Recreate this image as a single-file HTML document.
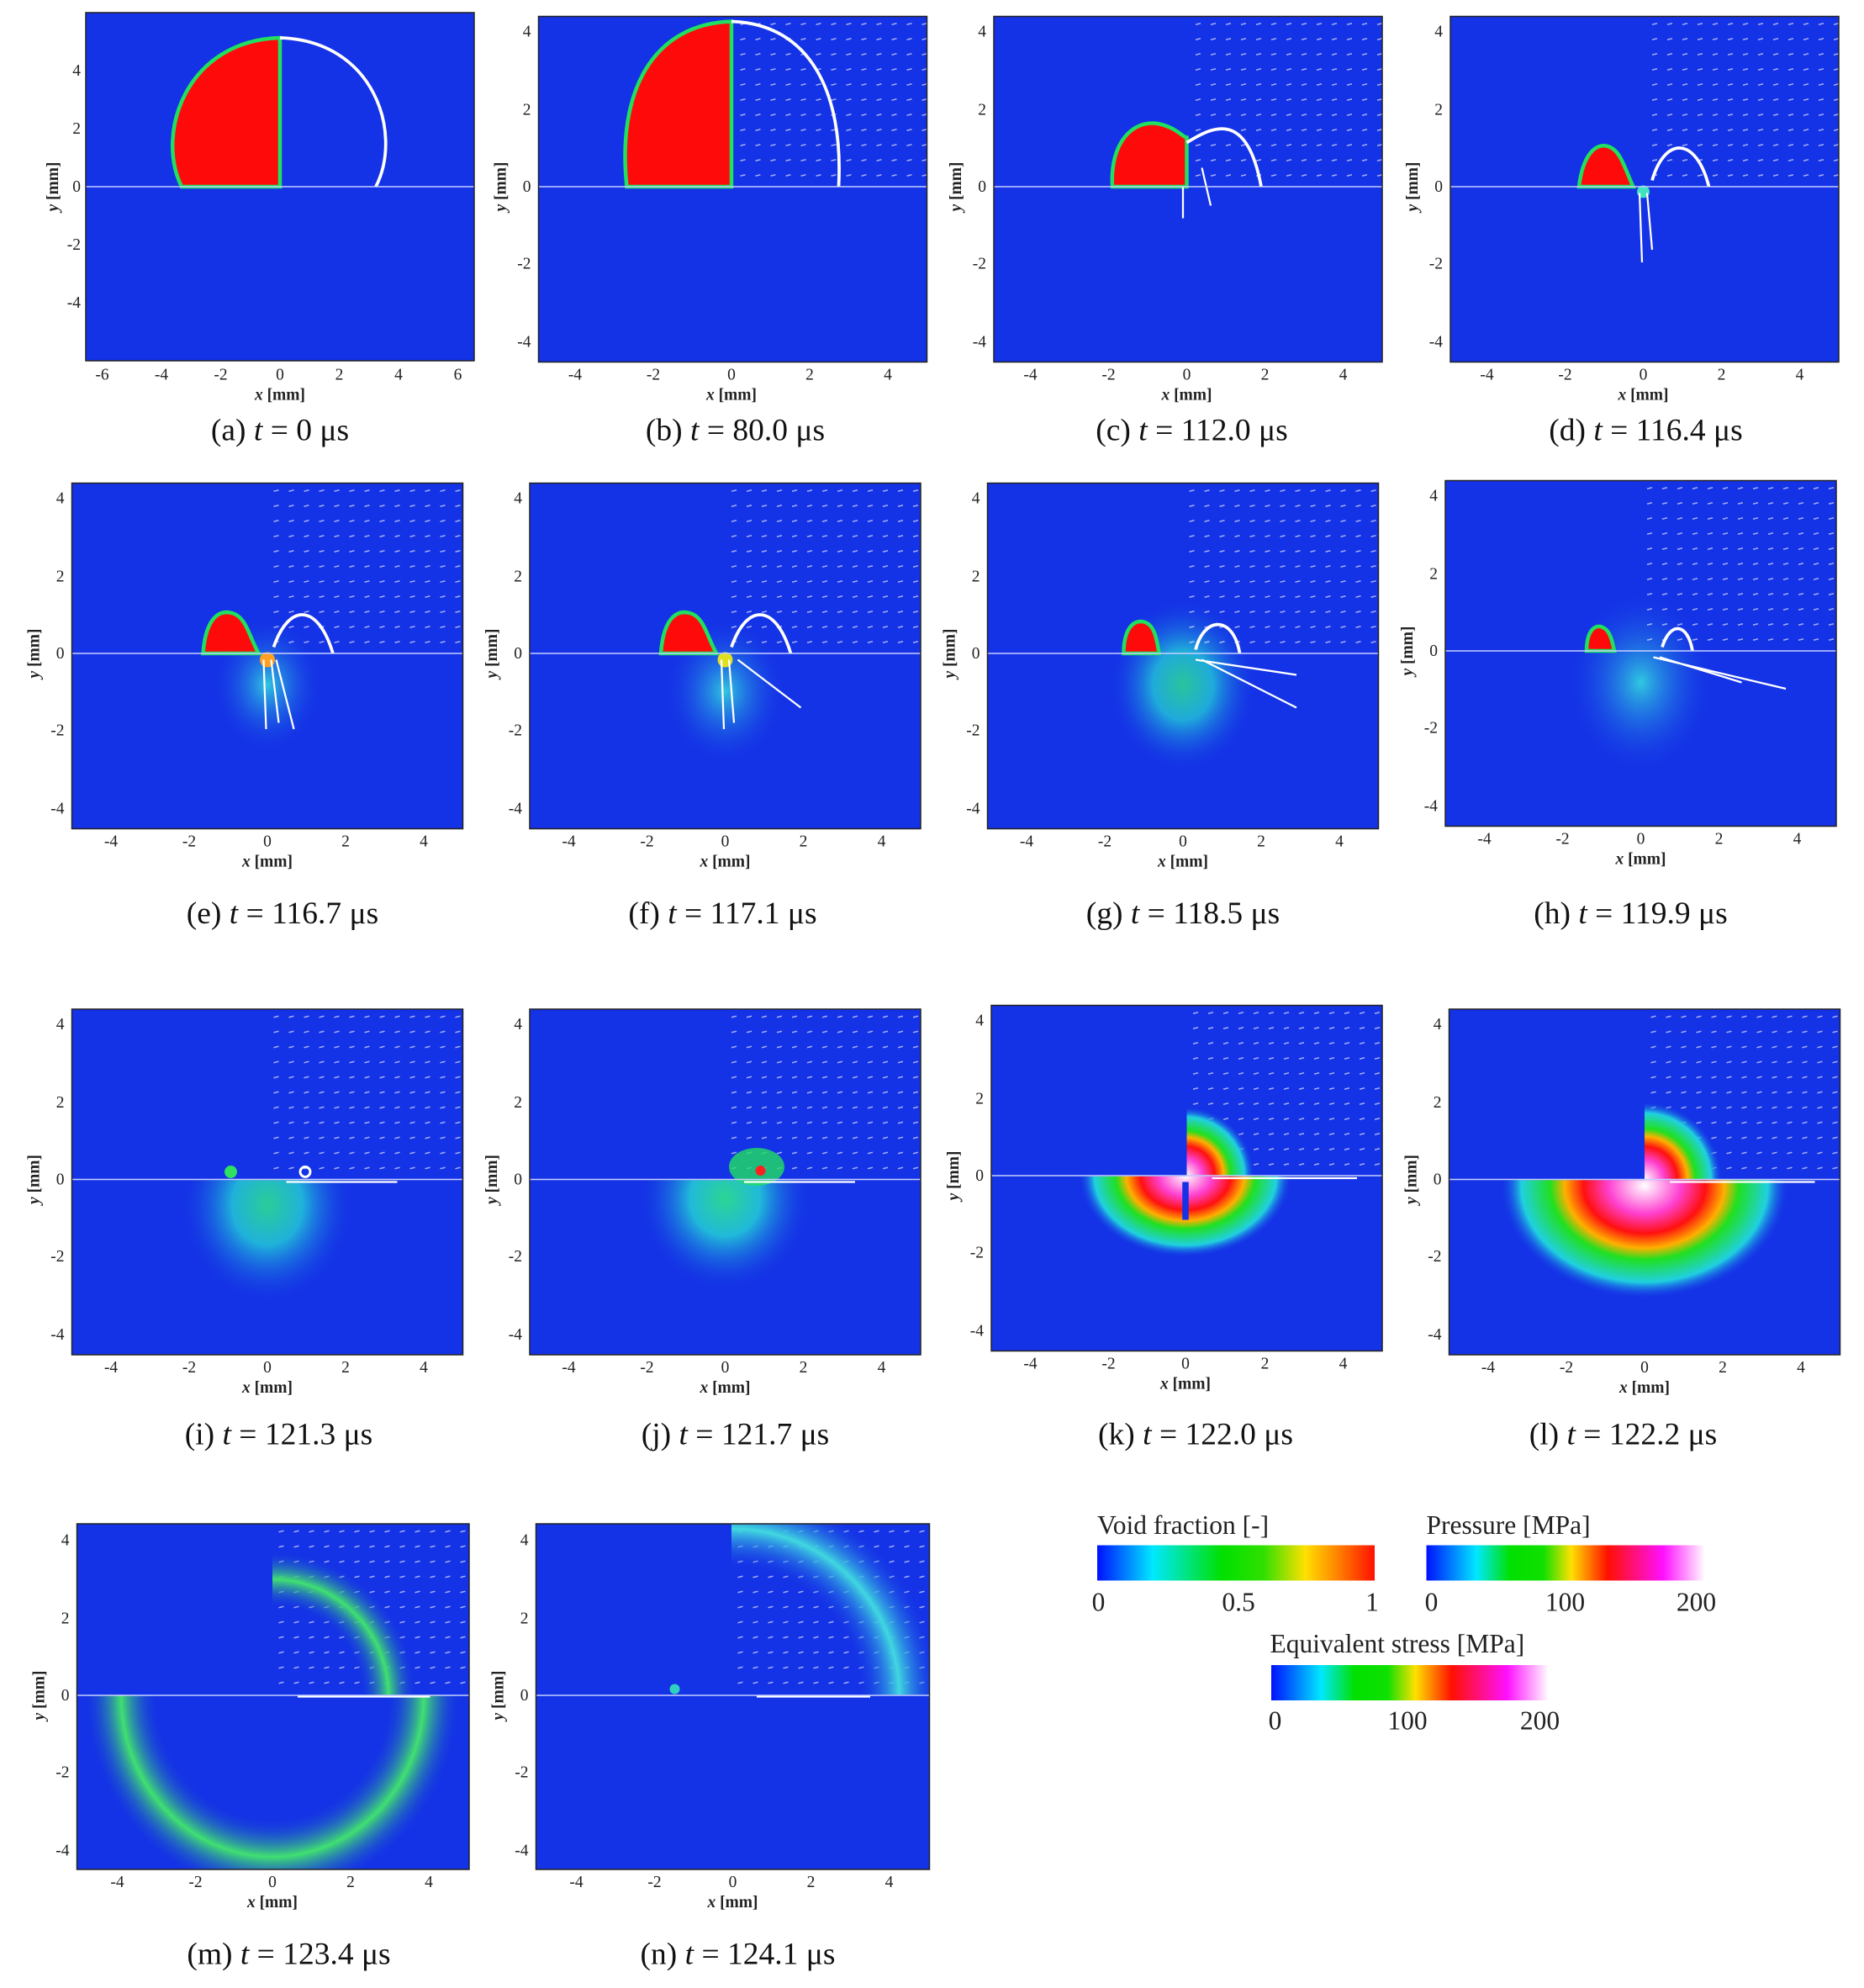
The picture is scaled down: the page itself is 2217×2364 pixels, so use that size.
<!DOCTYPE html>
<html><head><meta charset="utf-8"><style>
html,body{margin:0;padding:0;background:#fff}
svg{display:block}
.t{font-family:"Liberation Serif",serif;font-size:13px;fill:#222}
.ax{font-family:"Liberation Serif",serif;font-size:13px;font-weight:bold;fill:#222}
.cap{font-family:"Liberation Serif",serif;font-size:25px;fill:#111}
.lg{font-family:"Liberation Serif",serif;font-size:21px;fill:#222}
</style></head><body>
<svg width="2217" height="2364" viewBox="0 0 1478 1576" xmlns="http://www.w3.org/2000/svg">
<defs>
<pattern id="vf" width="12" height="12" patternUnits="userSpaceOnUse"><line x1="4" y1="6.5" x2="8" y2="5.5" stroke="#fff" stroke-width="1" opacity="0.6"/></pattern>
<radialGradient id="glow"><stop offset="0" stop-color="#2ee88a"/><stop offset="0.4" stop-color="#22c8d8"/><stop offset="1" stop-color="#1432e6" stop-opacity="0"/></radialGradient>
<radialGradient id="glow2"><stop offset="0" stop-color="#30c8e0"/><stop offset="1" stop-color="#1432e6" stop-opacity="0"/></radialGradient>
<radialGradient id="pres"><stop offset="0" stop-color="#fff"/><stop offset="0.25" stop-color="#ff40d0"/><stop offset="0.42" stop-color="#ff1010"/><stop offset="0.55" stop-color="#ffb000"/><stop offset="0.65" stop-color="#20e020"/><stop offset="0.85" stop-color="#20d0e0"/><stop offset="1" stop-color="#1432e6" stop-opacity="0"/></radialGradient>
<radialGradient id="ring" cx="0.5" cy="0.5" r="0.5"><stop offset="0.6" stop-color="#1432e6" stop-opacity="0"/><stop offset="0.8" stop-color="#40e070"/><stop offset="1" stop-color="#1432e6" stop-opacity="0"/></radialGradient>
<radialGradient id="ring2" cx="0.5" cy="0.5" r="0.5"><stop offset="0.6" stop-color="#1432e6" stop-opacity="0"/><stop offset="0.8" stop-color="#40d8e0"/><stop offset="1" stop-color="#1432e6" stop-opacity="0"/></radialGradient>
<linearGradient id="cbv"><stop offset="0" stop-color="#0010ff"/><stop offset="0.2" stop-color="#00e8ff"/><stop offset="0.45" stop-color="#00e000"/><stop offset="0.6" stop-color="#30e000"/><stop offset="0.75" stop-color="#ffe000"/><stop offset="0.85" stop-color="#ff9000"/><stop offset="1" stop-color="#ff1000"/></linearGradient>
<linearGradient id="cbp"><stop offset="0" stop-color="#0010ff"/><stop offset="0.18" stop-color="#00e8ff"/><stop offset="0.3" stop-color="#00e000"/><stop offset="0.42" stop-color="#10e000"/><stop offset="0.52" stop-color="#ffe000"/><stop offset="0.65" stop-color="#ff1000"/><stop offset="0.85" stop-color="#ff10ff"/><stop offset="1" stop-color="#ffffff"/></linearGradient>
<clipPath id="cp"><rect x="0" y="0" width="312" height="274"/></clipPath>
<clipPath id="qr"><rect x="155" y="0" width="157" height="135.5"/></clipPath>
<clipPath id="bot"><rect x="0" y="135.5" width="312" height="139"/></clipPath>
</defs>

<!-- (a) -->
<g transform="translate(68,10)">
<rect width="308" height="276" fill="#1432e6"/>
<path d="M154,138 L76,138 C55,95 80,22 154,20 Z" fill="#ff0a0a" stroke="#20e060" stroke-width="3"/>
<path d="M230,138 C252,95 228,22 154,20" fill="none" stroke="#fff" stroke-width="2.5"/>
<line x1="0" y1="138" x2="308" y2="138" stroke="#c8d0ff" stroke-width="1"/>
<rect width="308" height="276" fill="none" stroke="#222"/>
<g class="t" text-anchor="middle"><text x="13" y="291">-6</text><text x="60" y="291">-4</text><text x="107" y="291">-2</text><text x="154" y="291">0</text><text x="201" y="291">2</text><text x="248" y="291">4</text><text x="295" y="291">6</text></g>
<g class="t" text-anchor="end"><text x="-4" y="50">4</text><text x="-4" y="96">2</text><text x="-4" y="142">0</text><text x="-4" y="188">-2</text><text x="-4" y="234">-4</text></g>
<text class="ax" x="154" y="307" text-anchor="middle"><tspan font-style="italic">x</tspan> [mm]</text>
<text class="ax" transform="translate(-22,138) rotate(-90)" text-anchor="middle"><tspan font-style="italic">y</tspan> [mm]</text>
</g>
<text class="cap" x="222" y="349" text-anchor="middle">(a) <tspan font-style="italic">t</tspan> = 0 μs</text>

<!-- (b) -->
<g transform="translate(427,13)">
<rect width="308" height="274" fill="#1432e6"/>
<rect x="153" y="0" width="155" height="135" fill="url(#vf)"/>
<path d="M153,135 L70,135 C62,60 90,6 153,4 Z" fill="#ff0a0a" stroke="#20e060" stroke-width="3"/>
<path d="M238,135 C242,60 215,6 153,4" fill="none" stroke="#fff" stroke-width="2.5"/>
<line x1="0" y1="135" x2="308" y2="135" stroke="#c8d0ff"/>
<rect width="308" height="274" fill="none" stroke="#222"/>
<g class="t" text-anchor="middle"><text x="29" y="288">-4</text><text x="91" y="288">-2</text><text x="153" y="288">0</text><text x="215" y="288">2</text><text x="277" y="288">4</text></g>
<g class="t" text-anchor="end"><text x="-6" y="16">4</text><text x="-6" y="78">2</text><text x="-6" y="139">0</text><text x="-6" y="200">-2</text><text x="-6" y="262">-4</text></g>
<text class="ax" x="153" y="304" text-anchor="middle"><tspan font-style="italic">x</tspan> [mm]</text>
<text class="ax" transform="translate(-26,135) rotate(-90)" text-anchor="middle"><tspan font-style="italic">y</tspan> [mm]</text>
</g>
<text class="cap" x="583" y="349" text-anchor="middle">(b) <tspan font-style="italic">t</tspan> = 80.0 μs</text>

<!-- (c) -->
<g transform="translate(788,13)">
<rect width="308" height="274" fill="#1432e6"/>
<rect x="153" y="0" width="155" height="135" fill="url(#vf)"/>
<path d="M153,135 L94,135 C92,100 110,82 130,85 C145,88 150,96 153,96 Z" fill="#ff0a0a" stroke="#20e060" stroke-width="3"/>
<path d="M153,100 C170,90 200,70 212,135" fill="none" stroke="#fff" stroke-width="2.5"/>
<path d="M150,135 L150,160 M165,120 L172,150" stroke="#fff" stroke-width="1.5"/>
<line x1="0" y1="135" x2="308" y2="135" stroke="#c8d0ff"/>
<rect width="308" height="274" fill="none" stroke="#222"/>
<g class="t" text-anchor="middle"><text x="29" y="288">-4</text><text x="91" y="288">-2</text><text x="153" y="288">0</text><text x="215" y="288">2</text><text x="277" y="288">4</text></g>
<g class="t" text-anchor="end"><text x="-6" y="16">4</text><text x="-6" y="78">2</text><text x="-6" y="139">0</text><text x="-6" y="200">-2</text><text x="-6" y="262">-4</text></g>
<text class="ax" x="153" y="304" text-anchor="middle"><tspan font-style="italic">x</tspan> [mm]</text>
<text class="ax" transform="translate(-26,135) rotate(-90)" text-anchor="middle"><tspan font-style="italic">y</tspan> [mm]</text>
</g>
<text class="cap" x="945" y="349" text-anchor="middle">(c) <tspan font-style="italic">t</tspan> = 112.0 μs</text>

<!-- (d) -->
<g transform="translate(1150,13)">
<rect width="308" height="274" fill="#1432e6"/>
<rect x="153" y="0" width="155" height="135" fill="url(#vf)"/>
<path d="M145,135 L102,135 C105,110 115,100 125,103 C135,106 138,120 145,135 Z" fill="#ff0a0a" stroke="#20e060" stroke-width="3"/>
<path d="M160,130 C170,95 195,95 205,135" fill="none" stroke="#fff" stroke-width="2.5"/>
<circle cx="153" cy="139" r="5" fill="#40e0c0"/>
<path d="M150,140 L152,195 M156,140 L160,185" stroke="#fff" stroke-width="1.5"/>
<line x1="0" y1="135" x2="308" y2="135" stroke="#c8d0ff"/>
<rect width="308" height="274" fill="none" stroke="#222"/>
<g class="t" text-anchor="middle"><text x="29" y="288">-4</text><text x="91" y="288">-2</text><text x="153" y="288">0</text><text x="215" y="288">2</text><text x="277" y="288">4</text></g>
<g class="t" text-anchor="end"><text x="-6" y="16">4</text><text x="-6" y="78">2</text><text x="-6" y="139">0</text><text x="-6" y="200">-2</text><text x="-6" y="262">-4</text></g>
<text class="ax" x="153" y="304" text-anchor="middle"><tspan font-style="italic">x</tspan> [mm]</text>
<text class="ax" transform="translate(-26,135) rotate(-90)" text-anchor="middle"><tspan font-style="italic">y</tspan> [mm]</text>
</g>
<text class="cap" x="1305" y="349" text-anchor="middle">(d) <tspan font-style="italic">t</tspan> = 116.4 μs</text>

<!-- (e) -->
<g transform="translate(57,383)">
<rect width="310" height="274" fill="#1432e6"/>
<ellipse cx="155" cy="160" rx="45" ry="55" fill="url(#glow2)"/>
<rect x="155" y="0" width="155" height="135" fill="url(#vf)"/>
<path d="M148,135 L104,135 C106,108 116,100 127,103 C138,106 140,120 148,135 Z" fill="#ff0a0a" stroke="#20e060" stroke-width="3"/>
<path d="M160,130 C172,95 195,95 207,135" fill="none" stroke="#fff" stroke-width="2.5"/>
<circle cx="155" cy="140" r="6" fill="#ffa020"/>
<path d="M152,140 L154,195 M158,140 L164,190 M162,140 L176,195" stroke="#fff" stroke-width="1.5"/>
<line x1="0" y1="135" x2="310" y2="135" stroke="#c8d0ff"/>
<rect width="310" height="274" fill="none" stroke="#222"/>
<g class="t" text-anchor="middle"><text x="31" y="288">-4</text><text x="93" y="288">-2</text><text x="155" y="288">0</text><text x="217" y="288">2</text><text x="279" y="288">4</text></g>
<g class="t" text-anchor="end"><text x="-6" y="16">4</text><text x="-6" y="78">2</text><text x="-6" y="139">0</text><text x="-6" y="200">-2</text><text x="-6" y="262">-4</text></g>
<text class="ax" x="155" y="304" text-anchor="middle"><tspan font-style="italic">x</tspan> [mm]</text>
<text class="ax" transform="translate(-26,135) rotate(-90)" text-anchor="middle"><tspan font-style="italic">y</tspan> [mm]</text>
</g>
<text class="cap" x="224" y="732" text-anchor="middle">(e) <tspan font-style="italic">t</tspan> = 116.7 μs</text>

<!-- (f) -->
<g transform="translate(420,383)">
<rect width="310" height="274" fill="#1432e6"/>
<ellipse cx="155" cy="165" rx="50" ry="60" fill="url(#glow2)"/>
<rect x="155" y="0" width="155" height="135" fill="url(#vf)"/>
<path d="M148,135 L104,135 C106,108 116,100 127,103 C138,106 140,120 148,135 Z" fill="#ff0a0a" stroke="#20e060" stroke-width="3"/>
<path d="M160,130 C172,95 195,95 207,135" fill="none" stroke="#fff" stroke-width="2.5"/>
<circle cx="155" cy="140" r="6" fill="#e0e020"/>
<path d="M152,140 L154,195 M158,140 L162,190 M165,140 L215,178" stroke="#fff" stroke-width="1.5"/>
<line x1="0" y1="135" x2="310" y2="135" stroke="#c8d0ff"/>
<rect width="310" height="274" fill="none" stroke="#222"/>
<g class="t" text-anchor="middle"><text x="31" y="288">-4</text><text x="93" y="288">-2</text><text x="155" y="288">0</text><text x="217" y="288">2</text><text x="279" y="288">4</text></g>
<g class="t" text-anchor="end"><text x="-6" y="16">4</text><text x="-6" y="78">2</text><text x="-6" y="139">0</text><text x="-6" y="200">-2</text><text x="-6" y="262">-4</text></g>
<text class="ax" x="155" y="304" text-anchor="middle"><tspan font-style="italic">x</tspan> [mm]</text>
<text class="ax" transform="translate(-26,135) rotate(-90)" text-anchor="middle"><tspan font-style="italic">y</tspan> [mm]</text>
</g>
<text class="cap" x="573" y="732" text-anchor="middle">(f) <tspan font-style="italic">t</tspan> = 117.1 μs</text>

<!-- (g) -->
<g transform="translate(783,383)">
<rect width="310" height="274" fill="#1432e6"/>
<ellipse cx="155" cy="160" rx="60" ry="70" fill="url(#glow)" opacity="0.8"/>
<rect x="155" y="0" width="155" height="135" fill="url(#vf)"/>
<path d="M136,135 L108,135 C108,115 116,108 124,110 C132,112 134,122 136,135 Z" fill="#ff0a0a" stroke="#20e060" stroke-width="3"/>
<path d="M165,132 C172,105 195,105 200,135" fill="none" stroke="#fff" stroke-width="2.5"/>
<path d="M165,140 L245,152 M170,140 L245,178" stroke="#fff" stroke-width="1.5"/>
<line x1="0" y1="135" x2="310" y2="135" stroke="#c8d0ff"/>
<rect width="310" height="274" fill="none" stroke="#222"/>
<g class="t" text-anchor="middle"><text x="31" y="288">-4</text><text x="93" y="288">-2</text><text x="155" y="288">0</text><text x="217" y="288">2</text><text x="279" y="288">4</text></g>
<g class="t" text-anchor="end"><text x="-6" y="16">4</text><text x="-6" y="78">2</text><text x="-6" y="139">0</text><text x="-6" y="200">-2</text><text x="-6" y="262">-4</text></g>
<text class="ax" x="155" y="304" text-anchor="middle"><tspan font-style="italic">x</tspan> [mm]</text>
<text class="ax" transform="translate(-26,135) rotate(-90)" text-anchor="middle"><tspan font-style="italic">y</tspan> [mm]</text>
</g>
<text class="cap" x="938" y="732" text-anchor="middle">(g) <tspan font-style="italic">t</tspan> = 118.5 μs</text>

<!-- (h) -->
<g transform="translate(1146,381)">
<rect width="310" height="274" fill="#1432e6"/>
<ellipse cx="155" cy="160" rx="60" ry="75" fill="url(#glow2)"/>
<rect x="155" y="0" width="155" height="135" fill="url(#vf)"/>
<path d="M134,135 L112,135 C112,120 118,114 124,116 C130,118 132,125 134,135 Z" fill="#ff0a0a" stroke="#20e060" stroke-width="3"/>
<path d="M172,132 C178,112 192,112 196,135" fill="none" stroke="#fff" stroke-width="2.5"/>
<path d="M165,140 L270,165 M170,140 L235,160" stroke="#fff" stroke-width="1.5"/>
<line x1="0" y1="135" x2="310" y2="135" stroke="#c8d0ff"/>
<rect width="310" height="274" fill="none" stroke="#222"/>
<g class="t" text-anchor="middle"><text x="31" y="288">-4</text><text x="93" y="288">-2</text><text x="155" y="288">0</text><text x="217" y="288">2</text><text x="279" y="288">4</text></g>
<g class="t" text-anchor="end"><text x="-6" y="16">4</text><text x="-6" y="78">2</text><text x="-6" y="139">0</text><text x="-6" y="200">-2</text><text x="-6" y="262">-4</text></g>
<text class="ax" x="155" y="304" text-anchor="middle"><tspan font-style="italic">x</tspan> [mm]</text>
<text class="ax" transform="translate(-26,135) rotate(-90)" text-anchor="middle"><tspan font-style="italic">y</tspan> [mm]</text>
</g>
<text class="cap" x="1293" y="732" text-anchor="middle">(h) <tspan font-style="italic">t</tspan> = 119.9 μs</text>

<!-- (i) -->
<g transform="translate(57,800)">
<rect width="310" height="274" fill="#1432e6"/>
<ellipse cx="155" cy="155" rx="70" ry="80" fill="url(#glow)" opacity="0.85" clip-path="url(#bot)"/>
<rect x="155" y="0" width="155" height="135" fill="url(#vf)"/>
<circle cx="126" cy="129" r="5" fill="#30e060"/>
<circle cx="185" cy="129" r="4" fill="none" stroke="#fff" stroke-width="2"/>
<path d="M170,137 L258,137" stroke="#fff" stroke-width="1.5"/>
<line x1="0" y1="135" x2="310" y2="135" stroke="#c8d0ff"/>
<rect width="310" height="274" fill="none" stroke="#222"/>
<g class="t" text-anchor="middle"><text x="31" y="288">-4</text><text x="93" y="288">-2</text><text x="155" y="288">0</text><text x="217" y="288">2</text><text x="279" y="288">4</text></g>
<g class="t" text-anchor="end"><text x="-6" y="16">4</text><text x="-6" y="78">2</text><text x="-6" y="139">0</text><text x="-6" y="200">-2</text><text x="-6" y="262">-4</text></g>
<text class="ax" x="155" y="304" text-anchor="middle"><tspan font-style="italic">x</tspan> [mm]</text>
<text class="ax" transform="translate(-26,135) rotate(-90)" text-anchor="middle"><tspan font-style="italic">y</tspan> [mm]</text>
</g>
<text class="cap" x="221" y="1145" text-anchor="middle">(i) <tspan font-style="italic">t</tspan> = 121.3 μs</text>

<!-- (j) -->
<g transform="translate(420,800)">
<rect width="310" height="274" fill="#1432e6"/>
<ellipse cx="155" cy="150" rx="70" ry="75" fill="url(#glow)" opacity="0.9" clip-path="url(#bot)"/>
<rect x="155" y="0" width="155" height="135" fill="url(#vf)"/>
<ellipse cx="180" cy="125" rx="22" ry="15" fill="#20e060" opacity="0.8"/>
<circle cx="183" cy="128" r="4" fill="#ff2020"/>
<path d="M170,137 L258,137" stroke="#fff" stroke-width="1.5"/>
<line x1="0" y1="135" x2="310" y2="135" stroke="#c8d0ff"/>
<rect width="310" height="274" fill="none" stroke="#222"/>
<g class="t" text-anchor="middle"><text x="31" y="288">-4</text><text x="93" y="288">-2</text><text x="155" y="288">0</text><text x="217" y="288">2</text><text x="279" y="288">4</text></g>
<g class="t" text-anchor="end"><text x="-6" y="16">4</text><text x="-6" y="78">2</text><text x="-6" y="139">0</text><text x="-6" y="200">-2</text><text x="-6" y="262">-4</text></g>
<text class="ax" x="155" y="304" text-anchor="middle"><tspan font-style="italic">x</tspan> [mm]</text>
<text class="ax" transform="translate(-26,135) rotate(-90)" text-anchor="middle"><tspan font-style="italic">y</tspan> [mm]</text>
</g>
<text class="cap" x="583" y="1145" text-anchor="middle">(j) <tspan font-style="italic">t</tspan> = 121.7 μs</text>

<!-- (k) -->
<g transform="translate(786,797)">
<rect width="310" height="274" fill="#1432e6"/>
<rect x="154" y="0" width="156" height="135" fill="url(#vf)"/>
<ellipse cx="154" cy="135" rx="85" ry="65" fill="url(#pres)" clip-path="url(#bot)"/>
<ellipse cx="154" cy="135" rx="55" ry="55" fill="url(#pres)" clip-path="url(#qr)"/>
<path d="M154,140 L154,170" stroke="#1432e6" stroke-width="5"/>
<path d="M175,137 L290,137" stroke="#fff" stroke-width="1.5"/>
<line x1="0" y1="135" x2="310" y2="135" stroke="#c8d0ff"/>
<rect width="310" height="274" fill="none" stroke="#222"/>
<g class="t" text-anchor="middle"><text x="31" y="288">-4</text><text x="93" y="288">-2</text><text x="154" y="288">0</text><text x="217" y="288">2</text><text x="279" y="288">4</text></g>
<g class="t" text-anchor="end"><text x="-6" y="16">4</text><text x="-6" y="78">2</text><text x="-6" y="139">0</text><text x="-6" y="200">-2</text><text x="-6" y="262">-4</text></g>
<text class="ax" x="154" y="304" text-anchor="middle"><tspan font-style="italic">x</tspan> [mm]</text>
<text class="ax" transform="translate(-26,135) rotate(-90)" text-anchor="middle"><tspan font-style="italic">y</tspan> [mm]</text>
</g>
<text class="cap" x="948" y="1145" text-anchor="middle">(k) <tspan font-style="italic">t</tspan> = 122.0 μs</text>

<!-- (l) -->
<g transform="translate(1149,800)">
<rect width="310" height="274" fill="#1432e6"/>
<rect x="155" y="0" width="155" height="135" fill="url(#vf)"/>
<ellipse cx="155" cy="140" rx="115" ry="90" fill="url(#pres)" clip-path="url(#bot)"/>
<ellipse cx="155" cy="135" rx="62" ry="62" fill="url(#pres)" clip-path="url(#qr)"/>
<path d="M175,137 L290,137" stroke="#fff" stroke-width="1.5"/>
<line x1="0" y1="135" x2="310" y2="135" stroke="#c8d0ff"/>
<rect width="310" height="274" fill="none" stroke="#222"/>
<g class="t" text-anchor="middle"><text x="31" y="288">-4</text><text x="93" y="288">-2</text><text x="155" y="288">0</text><text x="217" y="288">2</text><text x="279" y="288">4</text></g>
<g class="t" text-anchor="end"><text x="-6" y="16">4</text><text x="-6" y="78">2</text><text x="-6" y="139">0</text><text x="-6" y="200">-2</text><text x="-6" y="262">-4</text></g>
<text class="ax" x="155" y="304" text-anchor="middle"><tspan font-style="italic">x</tspan> [mm]</text>
<text class="ax" transform="translate(-26,135) rotate(-90)" text-anchor="middle"><tspan font-style="italic">y</tspan> [mm]</text>
</g>
<text class="cap" x="1287" y="1145" text-anchor="middle">(l) <tspan font-style="italic">t</tspan> = 122.2 μs</text>

<!-- (m) -->
<g transform="translate(61,1208)">
<g clip-path="url(#cp)">
<rect width="311" height="274" fill="#1432e6"/>
<ellipse cx="155" cy="136" rx="150" ry="160" fill="url(#ring)" clip-path="url(#bot)"/>
<rect x="155" y="0" width="156" height="136" fill="url(#vf)"/>
<circle cx="155" cy="136" r="115" fill="url(#ring)" clip-path="url(#qr)"/>
<path d="M175,137 L280,137" stroke="#fff" stroke-width="1.5"/>
<line x1="0" y1="136" x2="311" y2="136" stroke="#c8d0ff"/>
</g>
<rect width="311" height="274" fill="none" stroke="#222"/>
<g class="t" text-anchor="middle"><text x="32" y="288">-4</text><text x="94" y="288">-2</text><text x="155" y="288">0</text><text x="217" y="288">2</text><text x="279" y="288">4</text></g>
<g class="t" text-anchor="end"><text x="-6" y="17">4</text><text x="-6" y="79">2</text><text x="-6" y="140">0</text><text x="-6" y="201">-2</text><text x="-6" y="263">-4</text></g>
<text class="ax" x="155" y="304" text-anchor="middle"><tspan font-style="italic">x</tspan> [mm]</text>
<text class="ax" transform="translate(-26,136) rotate(-90)" text-anchor="middle"><tspan font-style="italic">y</tspan> [mm]</text>
</g>
<text class="cap" x="229" y="1557" text-anchor="middle">(m) <tspan font-style="italic">t</tspan> = 123.4 μs</text>

<!-- (n) -->
<g transform="translate(425,1208)">
<g clip-path="url(#cp)">
<rect width="312" height="274" fill="#1432e6"/>
<rect x="156" y="0" width="156" height="136" fill="url(#vf)"/>
<circle cx="156" cy="136" r="165" fill="url(#ring2)" clip-path="url(#qr)"/>
<circle cx="110" cy="131" r="4" fill="#30d0c0"/>
<path d="M175,137 L265,137" stroke="#fff" stroke-width="1.5"/>
<line x1="0" y1="136" x2="312" y2="136" stroke="#c8d0ff"/>
</g>
<rect width="312" height="274" fill="none" stroke="#222"/>
<g class="t" text-anchor="middle"><text x="32" y="288">-4</text><text x="94" y="288">-2</text><text x="156" y="288">0</text><text x="218" y="288">2</text><text x="280" y="288">4</text></g>
<g class="t" text-anchor="end"><text x="-6" y="17">4</text><text x="-6" y="79">2</text><text x="-6" y="140">0</text><text x="-6" y="201">-2</text><text x="-6" y="263">-4</text></g>
<text class="ax" x="156" y="304" text-anchor="middle"><tspan font-style="italic">x</tspan> [mm]</text>
<text class="ax" transform="translate(-26,136) rotate(-90)" text-anchor="middle"><tspan font-style="italic">y</tspan> [mm]</text>
</g>
<text class="cap" x="585" y="1557" text-anchor="middle">(n) <tspan font-style="italic">t</tspan> = 124.1 μs</text>

<!-- Legends -->
<text class="lg" x="870" y="1216">Void fraction [-]</text>
<rect x="870" y="1225" width="220" height="28" fill="url(#cbv)"/>
<g class="lg" text-anchor="middle"><text x="871" y="1277">0</text><text x="982" y="1277">0.5</text><text x="1088" y="1277">1</text></g>
<text class="lg" x="1131" y="1216">Pressure [MPa]</text>
<rect x="1131" y="1225" width="221" height="28" fill="url(#cbp)"/>
<g class="lg" text-anchor="middle"><text x="1135" y="1277">0</text><text x="1241" y="1277">100</text><text x="1345" y="1277">200</text></g>
<text class="lg" x="1007" y="1310">Equivalent stress [MPa]</text>
<rect x="1008" y="1320" width="220" height="28" fill="url(#cbp)"/>
<g class="lg" text-anchor="middle"><text x="1011" y="1371">0</text><text x="1116" y="1371">100</text><text x="1221" y="1371">200</text></g>
</svg>
</body></html>
